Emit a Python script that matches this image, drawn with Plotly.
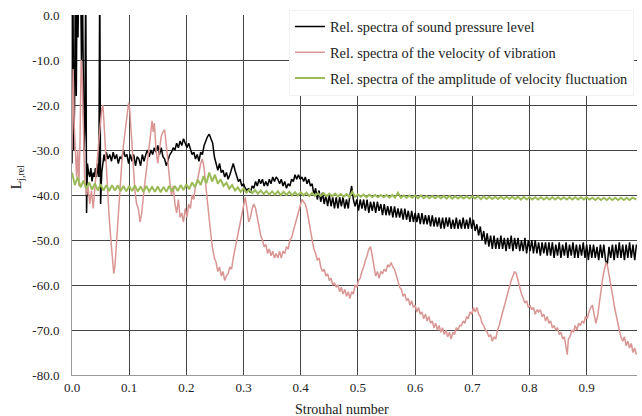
import plotly.graph_objects as go

# ---------------- data ----------------
SPL = [  # Rel. spectra of sound pressure level (x = Strouhal number, y = L_j,rel)
    (0.000,-33),(0.0015,10),(0.003,-30),(0.0045,-20),(0.006,10),(0.0075,-18),(0.009,10),(0.0105,-5),
    (0.012,10),(0.0135,5),(0.015,10),(0.0165,-10),(0.018,10),(0.0195,-25),(0.021,-30),(0.0225,-25),
    (0.024,10),(0.0255,-44),(0.027,-33),(0.029,-35),(0.031,-36),(0.033,-34),(0.035,-37),(0.037,-35),
    (0.039,-36),(0.041,-34),(0.043,-36),(0.045,-33),(0.047,-36),(0.0485,10),(0.050,-42),(0.052,-35),
    (0.054,-33),(0.056,-31),(0.058,-32.5),(0.060,-30.5),(0.063,-32),(0.066,-31),(0.069,-32.5),(0.072,-30.5),
    (0.075,-32),(0.078,-31),(0.081,-33),(0.084,-31.5),(0.087,-32),(0.090,-30),(0.093,-31.5),(0.096,-31),
    (0.099,-33),(0.102,-31),(0.105,-32.5),(0.108,-31),(0.111,-33.5),(0.114,-31.5),(0.117,-32),(0.120,-33.5),
    (0.123,-31),(0.126,-32.5),(0.129,-31),(0.132,-30),(0.135,-31.5),(0.138,-30),(0.141,-31),(0.144,-29.5),
    (0.147,-30.5),(0.150,-29),(0.153,-31),(0.156,-29.5),(0.159,-31.5),(0.162,-32),(0.165,-33.5),(0.168,-32),
    (0.171,-31),(0.174,-30.5),(0.177,-29.5),(0.180,-30),(0.183,-28.5),(0.186,-29.5),(0.189,-28),(0.192,-29),
    (0.195,-27.5),(0.198,-28.5),(0.201,-29.5),(0.204,-28.5),(0.207,-30),(0.210,-31),(0.213,-30.5),(0.216,-32),
    (0.219,-31),(0.222,-32.5),(0.225,-30.5),(0.228,-31),(0.231,-29),(0.234,-28),(0.237,-27),(0.240,-26.5),
    (0.243,-27.5),(0.246,-28.5),(0.249,-31.5),(0.252,-33),(0.255,-34.5),(0.258,-33),(0.261,-35),(0.264,-34.5),
    (0.267,-36),(0.270,-35),(0.273,-36.5),(0.276,-35.5),(0.279,-34),(0.282,-33),(0.285,-34.5),(0.288,-36),
    (0.291,-37),(0.294,-36.5),(0.297,-38),(0.300,-37.5),(0.303,-38.5),(0.306,-39),(0.309,-38.5),(0.312,-39.5),
    (0.315,-38),(0.318,-38.5),(0.321,-37),(0.324,-38),(0.327,-36.5),(0.330,-37.5),(0.333,-36.5),(0.336,-38),
    (0.339,-37),(0.342,-38),(0.345,-36.5),(0.348,-37.5),(0.351,-36),(0.354,-37),(0.357,-36),(0.360,-36.5),
    (0.363,-37.5),(0.366,-36.5),(0.369,-38),(0.372,-37),(0.375,-38.5),(0.378,-37.5),(0.381,-38),(0.384,-36.5),
    (0.387,-37),(0.390,-35.5),(0.393,-36.5),(0.396,-35.5),(0.399,-36.5),(0.402,-36),(0.405,-37),(0.408,-36),
    (0.411,-37.5),(0.414,-36.5),(0.417,-38),
    (0.420,-37.5),(0.423,-40),(0.426,-38.5),(0.429,-41),(0.432,-39),(0.435,-41.5),(0.438,-39.5),(0.441,-42),
    (0.444,-40),(0.447,-42.5),(0.450,-40),(0.453,-42.5),(0.456,-40.5),(0.459,-43),(0.462,-40.5),(0.465,-43),
    (0.468,-40.5),(0.471,-42.5),(0.474,-40.5),(0.477,-43),(0.480,-41),(0.483,-43),(0.486,-40),(0.489,-38),
    (0.492,-41),(0.495,-42.5),(0.498,-41),(0.501,-43.5),(0.504,-41),(0.507,-43),(0.510,-41),(0.513,-43.5),
    (0.516,-41),(0.519,-44),(0.522,-41.5),(0.525,-43.5),(0.528,-41.5),(0.531,-44),(0.534,-41.5),(0.537,-43.5),
    (0.540,-42),(0.543,-44.5),(0.546,-42),(0.549,-44.5),(0.552,-42.5),(0.555,-44.5),(0.558,-42.5),(0.561,-45),
    (0.564,-42.5),(0.567,-45),(0.570,-43),(0.573,-45),(0.576,-43),(0.579,-45.5),(0.582,-43),(0.585,-45.5),
    (0.588,-43.5),(0.591,-46),(0.594,-43.5),(0.597,-46),(0.600,-44),(0.603,-46),(0.606,-44),(0.609,-46.5),
    (0.612,-44),(0.615,-46.5),(0.618,-44.5),(0.621,-46.5),(0.624,-44.5),(0.627,-47),(0.630,-44.5),(0.633,-47),
    (0.636,-45),(0.639,-47),(0.642,-45),(0.645,-47.5),(0.648,-45),(0.651,-47.5),(0.654,-45),(0.657,-47),
    (0.660,-45),(0.663,-47.5),(0.666,-45.5),(0.669,-47.5),(0.672,-45),(0.675,-47.5),(0.678,-45.5),(0.681,-47.5),
    (0.684,-45),(0.687,-47.5),(0.690,-45.5),(0.693,-47.5),(0.696,-45),(0.699,-47.5),(0.702,-45.5),(0.705,-48),
    (0.708,-46.5),(0.711,-49),(0.714,-47),(0.717,-50),(0.720,-48),(0.723,-51),(0.726,-48.5),(0.729,-51.5),
    (0.732,-49),(0.735,-52),(0.738,-49),(0.741,-52),(0.744,-49.5),(0.747,-52),(0.750,-49),(0.753,-52),
    (0.756,-49.5),(0.759,-52.5),(0.762,-49.5),(0.765,-52),(0.768,-49),(0.771,-52.5),(0.774,-49.5),(0.777,-52),
    (0.780,-49.5),(0.783,-52.5),(0.786,-50),(0.789,-52.5),(0.792,-49.5),(0.795,-53),(0.798,-50),(0.801,-52.5),
    (0.804,-50),(0.807,-53),(0.810,-50),(0.813,-53),(0.816,-50.5),(0.819,-53.5),(0.822,-50.5),(0.825,-53),
    (0.828,-50.5),(0.831,-53.5),(0.834,-50.5),(0.837,-53.5),(0.840,-50.5),(0.843,-54),(0.846,-51),(0.849,-53.5),
    (0.852,-50.5),(0.855,-54),(0.858,-51),(0.861,-53.5),(0.864,-50.5),(0.867,-54),(0.870,-51),(0.873,-53.5),
    (0.876,-50.5),(0.879,-54),(0.882,-51),(0.885,-54),(0.888,-51),(0.891,-53.5),(0.894,-50.5),(0.897,-54),
    (0.900,-51),(0.903,-54.5),(0.906,-51),(0.909,-54),(0.912,-51),(0.915,-54),(0.918,-51.5),(0.921,-54.5),
    (0.924,-51),(0.927,-54),(0.930,-51),(0.933,-54.5),(0.936,-55.5),(0.939,-51.5),(0.942,-54),(0.945,-51),
    (0.948,-54.5),(0.951,-51),(0.954,-54),(0.957,-50.5),(0.960,-54),(0.963,-51),(0.966,-54.5),(0.969,-51),
    (0.972,-54),(0.975,-50.5),(0.978,-54),(0.981,-51),(0.984,-54.5),(0.987,-51),
]

VIB = [  # Rel. spectra of the velocity of vibration
    (0.000,-30),(0.002,-12),(0.004,-25),(0.006,-33),(0.008,-36),(0.010,-30),(0.012,-38),(0.014,-28),
    (0.016,-10),(0.018,-14),(0.020,-30),(0.022,-36),(0.025,-40),(0.028,-38),(0.031,-42),(0.034,-39),
    (0.037,-43),(0.040,-38),(0.043,-35),(0.046,-30),(0.049,-25),(0.052,-21),(0.054,-20),(0.056,-24),
    (0.059,-32),(0.062,-38),(0.065,-45),(0.068,-50),(0.071,-55),(0.073,-57.5),(0.075,-56),(0.078,-50),
    (0.081,-44),(0.084,-38),(0.087,-33),(0.090,-29),(0.093,-26),(0.096,-23),(0.099,-19.5),(0.101,-21),
    (0.104,-28),(0.107,-34),(0.110,-39),(0.113,-42),(0.116,-43),(0.119,-46),(0.122,-44),(0.125,-40),
    (0.128,-37),(0.131,-33),(0.134,-30),(0.137,-27),(0.140,-23.5),(0.142,-26),(0.144,-24),(0.147,-30),
    (0.150,-33),(0.153,-30),(0.156,-27),(0.159,-26),(0.162,-25.5),(0.165,-29),(0.168,-34),(0.171,-37),
    (0.174,-40),(0.177,-38),(0.180,-42),(0.183,-44),(0.186,-41),(0.189,-45),(0.192,-44),(0.195,-46),
    (0.198,-43),(0.201,-45),(0.204,-42),(0.207,-43),(0.210,-40),(0.213,-41),(0.216,-38),(0.219,-37),
    (0.222,-35),(0.225,-33),(0.228,-32),(0.231,-34),(0.234,-38),(0.237,-42),(0.240,-46),(0.243,-49),
    (0.246,-52),(0.249,-54),(0.252,-55),(0.255,-57),(0.258,-56),(0.261,-58),(0.264,-57),(0.267,-59),
    (0.270,-58),(0.273,-57.5),(0.276,-56),(0.279,-56.5),(0.282,-54),(0.285,-52),(0.288,-50),(0.291,-48),
    (0.294,-46),(0.297,-44),(0.300,-42),(0.303,-40.5),(0.306,-43),(0.309,-46),(0.312,-45),(0.315,-43),
    (0.318,-42),(0.321,-43),(0.324,-45),(0.327,-47),(0.330,-49),(0.333,-50),(0.336,-51.5),(0.339,-51),
    (0.342,-53),(0.345,-52),(0.348,-53.5),(0.351,-52.5),(0.354,-54),(0.357,-53),(0.360,-54),(0.363,-52.5),
    (0.366,-54),(0.369,-52.5),(0.372,-53),(0.375,-51.5),(0.378,-52),(0.381,-50),(0.384,-49.5),(0.387,-48),
    (0.390,-46.5),(0.393,-45),(0.396,-43.5),(0.399,-42),(0.402,-41),(0.405,-41.5),(0.408,-42),(0.411,-43.5),
    (0.414,-46),(0.417,-48),(0.420,-50),(0.423,-52),(0.426,-53),(0.429,-54.5),(0.432,-54),(0.435,-56),
    (0.438,-57),(0.441,-56.5),(0.444,-58),(0.447,-57.5),(0.450,-59),(0.453,-58.5),(0.456,-60),(0.459,-59.5),
    (0.462,-60.5),(0.465,-60),(0.468,-61.5),(0.471,-60.5),(0.474,-62),(0.477,-61),(0.480,-62.5),(0.483,-61.5),
    (0.486,-63),(0.489,-61.5),(0.492,-62),(0.495,-60),(0.498,-60.5),(0.501,-59),(0.504,-58.5),(0.507,-57),
    (0.510,-56),(0.513,-54.5),(0.516,-53.5),(0.519,-52),(0.522,-51.5),(0.525,-53.5),(0.528,-56),(0.531,-58),
    (0.534,-57),(0.537,-58.5),(0.540,-57),(0.543,-57.5),(0.546,-56.5),(0.549,-57),(0.552,-55.5),(0.555,-56),
    (0.558,-55),(0.561,-56),(0.564,-56.5),(0.567,-58),(0.570,-59),(0.573,-60.5),(0.576,-61),(0.579,-62.5),
    (0.582,-62),(0.585,-63.5),(0.588,-63),(0.591,-64.5),(0.594,-63.5),(0.597,-65),(0.600,-64.5),(0.603,-66),
    (0.606,-65),(0.609,-66.5),(0.612,-66),(0.615,-67.5),(0.618,-66.5),(0.621,-68),(0.624,-67),(0.627,-68.5),
    (0.630,-68),(0.633,-69.5),(0.636,-68.5),(0.639,-70),(0.642,-69),(0.645,-70.5),(0.648,-69.5),(0.651,-71),
    (0.654,-70),(0.657,-71.5),(0.660,-70.5),(0.663,-72),(0.666,-70.5),(0.669,-71),(0.672,-69.5),(0.675,-70),
    (0.678,-69),(0.681,-69),(0.684,-68),(0.687,-68.5),(0.690,-67),(0.693,-67.5),(0.696,-66),(0.699,-66.5),
    (0.702,-65),(0.705,-66),(0.708,-65),(0.711,-66.5),(0.714,-67),(0.717,-68.5),(0.720,-69),(0.723,-70),
    (0.726,-70.5),(0.729,-71.5),(0.732,-71),(0.735,-72.5),(0.738,-71.5),(0.741,-72),(0.744,-70),(0.747,-69),
    (0.750,-67.5),(0.753,-66),(0.756,-64.5),(0.759,-63),(0.762,-61.5),(0.765,-60),(0.768,-59),(0.771,-58),
    (0.774,-57),(0.777,-57.5),(0.780,-59),(0.783,-61),(0.786,-62),(0.789,-63),(0.792,-64),(0.795,-63.5),
    (0.798,-65),(0.801,-64.5),(0.804,-65.5),(0.807,-65),(0.810,-66.5),(0.813,-65.5),(0.816,-66),(0.819,-65.5),
    (0.822,-67),(0.825,-66.5),(0.828,-68),(0.831,-67),(0.834,-68.5),(0.837,-68),(0.840,-69.5),(0.843,-69),
    (0.846,-70),(0.849,-69.5),(0.852,-71),(0.855,-70.5),(0.858,-72),(0.861,-71.5),(0.864,-74),(0.866,-75.5),
    (0.868,-72),(0.871,-71.5),(0.874,-70),(0.877,-70.5),(0.880,-69),(0.883,-70),(0.886,-68.5),(0.889,-69),
    (0.892,-68),(0.895,-68.5),(0.898,-67),(0.901,-67.5),(0.904,-66),(0.907,-65),(0.910,-64.5),(0.913,-66.5),
    (0.916,-68.5),(0.919,-67),(0.922,-64),(0.925,-61),(0.928,-58.5),(0.931,-56.5),(0.934,-55),(0.936,-55.5),
    (0.939,-57.5),(0.942,-60),(0.945,-62),(0.948,-64.5),(0.951,-66.5),(0.954,-68.5),(0.957,-70),(0.960,-71.5),
    (0.963,-72.5),(0.966,-71.5),(0.969,-73.5),(0.972,-72.5),(0.975,-74),(0.978,-73),(0.981,-75),(0.984,-74),
    (0.987,-75.5),
]

FLUCT = [  # Rel. spectra of the amplitude of velocity fluctuation
    (0.000,-35.0),(0.005,-37.8),(0.010,-36.0),(0.015,-38.3),(0.020,-36.8),(0.025,-38.6),(0.030,-37.2),
    (0.035,-38.8),(0.040,-37.4),(0.045,-39.0),(0.050,-37.6),(0.055,-39.0),(0.060,-37.8),(0.065,-39.1),
    (0.070,-37.8),(0.075,-39.0),(0.080,-37.9),(0.085,-39.1),(0.090,-38.0),(0.095,-39.2),(0.100,-38.0),
    (0.105,-39.1),(0.110,-37.9),(0.115,-39.2),(0.120,-38.1),(0.125,-39.3),(0.130,-38.0),(0.135,-39.2),
    (0.140,-38.2),(0.145,-39.3),(0.150,-38.1),(0.155,-39.4),(0.160,-38.2),(0.165,-39.3),(0.170,-38.0),
    (0.175,-39.2),(0.180,-38.0),(0.185,-39.1),(0.190,-37.8),(0.195,-38.9),(0.200,-37.6),(0.205,-38.7),
    (0.210,-37.2),(0.215,-38.3),(0.220,-36.6),(0.225,-37.8),(0.230,-35.8),(0.235,-37.4),(0.240,-35.0),
    (0.245,-37.0),(0.250,-35.5),(0.255,-37.5),(0.260,-36.5),(0.265,-38.0),(0.270,-37.3),(0.275,-38.6),
    (0.280,-37.8),(0.285,-39.0),(0.290,-38.3),(0.295,-39.3),(0.300,-38.6),(0.305,-39.5),(0.310,-38.8),
    (0.315,-39.6),(0.320,-38.9),(0.325,-39.7),(0.330,-39.0),(0.335,-39.8),(0.340,-39.1),(0.345,-39.9),
    (0.350,-39.2),(0.355,-39.9),(0.360,-39.2),(0.365,-40.0),(0.370,-39.3),(0.375,-40.0),(0.380,-39.3),
    (0.385,-40.1),(0.390,-39.4),(0.395,-40.1),(0.400,-39.4),(0.405,-40.1),(0.410,-39.5),(0.415,-40.2),
    (0.420,-39.5),(0.425,-40.2),(0.430,-39.6),(0.435,-40.2),(0.440,-39.6),(0.445,-40.3),(0.450,-39.7),
    (0.455,-40.3),(0.460,-39.7),(0.465,-40.3),(0.470,-39.8),(0.475,-40.4),(0.480,-39.8),(0.485,-40.4),
    (0.490,-39.3),(0.495,-40.4),(0.500,-39.9),(0.505,-40.4),(0.510,-39.9),(0.515,-40.5),(0.520,-39.9),
    (0.525,-40.5),(0.530,-40.0),(0.535,-40.5),(0.540,-40.0),(0.545,-40.5),(0.550,-40.0),(0.555,-40.6),
    (0.560,-40.0),(0.565,-40.6),(0.570,-39.5),(0.575,-40.6),(0.580,-40.1),(0.585,-40.6),(0.590,-40.1),
    (0.595,-40.6),(0.600,-40.1),(0.605,-40.7),(0.610,-40.1),(0.615,-40.7),(0.620,-40.2),(0.625,-40.7),
    (0.630,-40.2),(0.635,-40.7),(0.640,-40.2),(0.645,-40.7),(0.650,-40.2),(0.655,-40.8),(0.660,-40.2),
    (0.665,-40.8),(0.670,-40.3),(0.675,-40.8),(0.680,-40.3),(0.685,-40.8),(0.690,-40.3),(0.695,-40.8),
    (0.700,-40.3),(0.705,-40.8),(0.710,-40.3),(0.715,-40.9),(0.720,-40.3),(0.725,-40.9),(0.730,-40.4),
    (0.735,-40.9),(0.740,-40.4),(0.745,-40.9),(0.750,-40.4),(0.755,-40.9),(0.760,-40.4),(0.765,-40.9),
    (0.770,-40.4),(0.775,-40.9),(0.780,-40.4),(0.785,-41.0),(0.790,-40.4),(0.795,-41.0),(0.800,-40.5),
    (0.805,-41.0),(0.810,-40.5),(0.815,-41.0),(0.820,-40.5),(0.825,-41.0),(0.830,-40.5),(0.835,-41.0),
    (0.840,-40.5),(0.845,-41.0),(0.850,-40.5),(0.855,-41.0),(0.860,-40.5),(0.865,-41.0),(0.870,-40.5),
    (0.875,-41.0),(0.880,-40.5),(0.885,-41.0),(0.890,-40.5),(0.895,-41.0),(0.900,-40.5),(0.905,-41.0),
    (0.910,-40.6),(0.915,-41.1),(0.920,-40.6),(0.925,-41.1),(0.930,-40.6),(0.935,-41.1),(0.940,-40.6),
    (0.945,-41.1),(0.950,-40.6),(0.955,-41.1),(0.960,-40.6),(0.965,-41.1),(0.970,-40.6),(0.975,-41.1),
    (0.980,-40.6),(0.987,-41.0),
]

SERIES_NAMES = [
    "Rel. spectra of sound pressure level",
    "Rel. spectra of the velocity of vibration",
    "Rel. spectra of the amplitude of velocity fluctuation",
]
X_TICKS = [0.0, 0.1, 0.2, 0.3, 0.4, 0.5, 0.6, 0.7, 0.8, 0.9]
X_TICK_LABELS = ["0.0", "0.1", "0.2", "0.3", "0.4", "0.5", "0.6", "0.7", "0.8", "0.9"]
Y_TICKS = [0, -10, -20, -30, -40, -50, -60, -70, -80]
Y_TICK_LABELS = ["0.0", "-10.0", "-20.0", "-30.0", "-40.0", "-50.0", "-60.0", "-70.0", "-80.0"]

# ---------------- figure ----------------
FONT = "Liberation Serif"
colors = ["#000000", "#DA9694", "#9BBB59"]
widths = [1.5, 1.5, 2.0]

fig = go.Figure()
for name, data, col, w in zip(SERIES_NAMES, [SPL, VIB, FLUCT], colors, widths):
    fig.add_trace(go.Scatter(
        x=[p[0] for p in data], y=[p[1] for p in data],
        mode="lines", name=name, legendgroup=name,
        line=dict(color=col, width=w),
    ))

fig.update_layout(
    width=642, height=416,
    margin=dict(l=72, r=5, t=15, b=41),
    paper_bgcolor="white", plot_bgcolor="white",
    font=dict(family=FONT, size=13, color="#222"),
    showlegend=True,
    legend=dict(
        x=0.384, xanchor="left", y=1.015, yanchor="top",
        bgcolor="white", bordercolor="#f2f2f2", borderwidth=1,
        font=dict(family=FONT, size=14.4, color="#222"),
        traceorder="grouped", tracegroupgap=4, itemwidth=30,
    ),
    xaxis=dict(
        range=[0, 0.988], tickvals=X_TICKS, ticktext=X_TICK_LABELS,
        showgrid=True, gridcolor="#444", gridwidth=1,
        showline=True, linecolor="#999", linewidth=1,
        zeroline=False, ticks="", ticklabelstandoff=0,
        tickfont=dict(family=FONT, size=13, color="#222"),
    ),
    yaxis=dict(
        range=[-80, 0], tickvals=Y_TICKS, ticktext=Y_TICK_LABELS,
        showgrid=True, gridcolor="#444", gridwidth=1,
        showline=True, linecolor="#999", linewidth=1,
        zeroline=False, ticks="", ticklabelstandoff=9,
        tickfont=dict(family=FONT, size=13, color="#222"),
    ),
    annotations=[
        dict(text="Strouhal number", x=0.478, y=-0.095, xref="paper", yref="paper",
             xanchor="center", yanchor="middle", showarrow=False,
             font=dict(family=FONT, size=14, color="#222")),
        dict(text="L<sub>j,rel</sub>", x=-0.095, y=0.55, xref="paper", yref="paper",
             xanchor="center", yanchor="middle", showarrow=False, textangle=-90,
             font=dict(family=FONT, size=14, color="#222")),
    ],
)

fig.write_html("out.html")
